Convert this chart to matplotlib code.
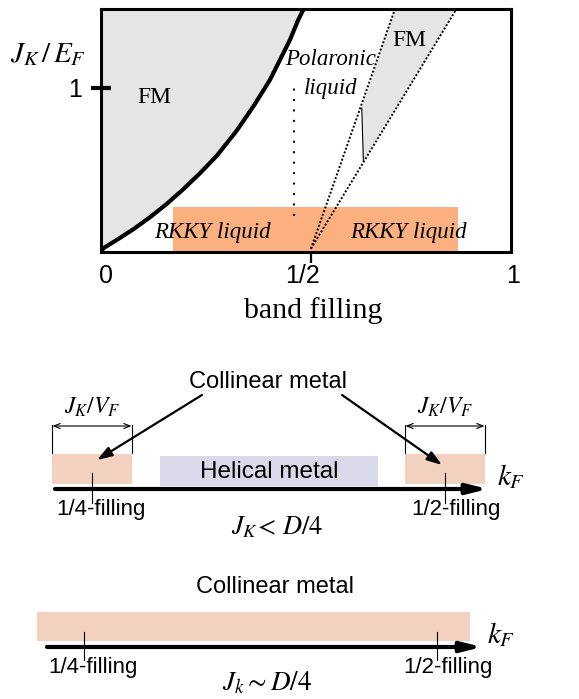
import matplotlib
matplotlib.use("Agg")
import matplotlib.pyplot as plt
from matplotlib.patches import Rectangle
from matplotlib.transforms import ScaledTranslation
import numpy as np

plt.rcParams['mathtext.fontset'] = 'stix'

W, H = 579, 699
SERIF = 'Liberation Serif'
SANS = 'Liberation Sans'

# ---------------- data: top phase diagram ----------------
fm_curve_x = [0.0, 0.0056, 0.0383, 0.0788, 0.1195, 0.1602, 0.2007, 0.2415, 0.2822,
              0.331, 0.3715, 0.4122, 0.4366, 0.4610, 0.4812, 0.4934, 0.4945]
fm_curve_y = [0.0, 0.0226, 0.0732, 0.1384, 0.2116, 0.2927, 0.3823, 0.4799, 0.5854,
              0.739, 0.886, 1.0488, 1.1707, 1.2927, 1.4146, 1.4756, 1.48]
rkky_x = [0.176, 0.871]
rkky_y = [0.0, 0.274]
polaron_dots_x = [0.471, 0.471]
polaron_dots_y = [0.226, 1.05]
wedge_vertex = (0.512, 0.02)
wedge_top_x = [0.717, 0.867]
fm2_x = [0.717, 0.867, 0.640, 0.636]
fm2_y = [1.48, 1.48, 0.551, 0.876]
ymax = 1.48
xticks_pos = [0.0, 0.512, 1.0]
xtick_labels = ['0', '1/2', '1']
yticks_pos = [1.0]
ytick_labels = ['1']

# ---------------- data: k_F panels ----------------
fillings = [0.25, 0.5]
filling_labels = ['1/4-filling', '1/2-filling']
window_width = 0.056          # J_K / V_F
helical_k = [0.2982, 0.4525]
axis2_k = [0.2238, 0.5304]
collinear_arrow_from = [0.3279, 0.4271]
collinear_arrow_to = [0.2535, 0.4979]
band3_k = [0.2167, 0.5234]
axis3_k = [0.2238, 0.5319]

GRAY = '#e5e5e5'
ORANGE = '#fcb07f'
PINK = '#f2d1c0'
LAV = '#d9d9ea'

fig = plt.figure(figsize=(W / 100, H / 100), dpi=100)

def fx(px):
    return px / W

def fy(py):
    return 1 - py / H

# ---------------- top panel ----------------
ax = fig.add_axes([fx(101), fy(252), (511 - 101) / W, (252 - 9) / H])
ax.set_xlim(0, 1)
ax.set_ylim(0, ymax)
for s in ax.spines.values():
    s.set_linewidth(2.2)
    s.set_zorder(10)

ax.fill([0] + fm_curve_x + [0], [0] + fm_curve_y + [ymax], color=GRAY, lw=0, zorder=1)
ax.add_patch(Rectangle((rkky_x[0], rkky_y[0]), rkky_x[1] - rkky_x[0], rkky_y[1] - rkky_y[0],
                       color=ORANGE, lw=0, zorder=2))
ax.fill(fm2_x, fm2_y, color=GRAY, lw=0, zorder=1)
ax.plot(fm_curve_x, fm_curve_y, color='k', lw=3.0, zorder=5, solid_capstyle='butt',
        solid_joinstyle='round')
ax.plot(polaron_dots_x, polaron_dots_y, color='k', lw=1.6, linestyle=(0, (0.1, 4.6)),
        dash_capstyle='round', zorder=6)
for xt in wedge_top_x:
    ax.plot([wedge_vertex[0], xt], [wedge_vertex[1], ymax], color='k', lw=1.4,
            linestyle=(0, (1, 1.0)), zorder=6)
ax.plot(fm2_x[2:], fm2_y[2:], color='k', lw=0.8, zorder=6)

ax.set_xticks(xticks_pos)
ax.set_xticklabels(xtick_labels, fontfamily=SANS, fontsize=18)
ax.set_yticks(yticks_pos)
ax.set_yticklabels(ytick_labels, fontfamily=SANS, fontsize=18)
ax.tick_params(axis='x', direction='inout', length=16, width=1.6, pad=1)
ax.tick_params(axis='y', direction='inout', length=15, width=3.0, pad=6)
xt_objs = ax.xaxis.get_major_ticks()
for i in (0, 2):
    xt_objs[i].tick1line.set_visible(False)
x_shifts = [5, -8, 2]
for lab, dx in zip(ax.get_xticklabels(), x_shifts):
    lab.set_transform(lab.get_transform() + ScaledTranslation(dx / 100, 0, fig.dpi_scale_trans))

ax.text(0.13, 0.94, 'FM', fontfamily=SERIF, fontsize=17, ha='center', va='center', zorder=8)
ax.text(0.752, 1.29, 'FM', fontfamily=SERIF, fontsize=17, ha='center', va='center', zorder=8)
ax.text(0.561, 1.17, 'Polaronic', fontfamily=SERIF, fontsize=16.5, style='italic',
        ha='center', va='center', zorder=8)
ax.text(0.559, 0.995, 'liquid', fontfamily=SERIF, fontsize=16.5, style='italic',
        ha='center', va='center', zorder=8)
ax.text(0.273, 0.12, 'RKKY liquid', fontfamily=SERIF, fontsize=16.5, style='italic',
        ha='center', va='center', zorder=8)
ax.text(0.75, 0.12, 'RKKY liquid', fontfamily=SERIF, fontsize=16.5, style='italic',
        ha='center', va='center', zorder=8)

fig.text(fx(48), fy(54), r'$J_K\,/\,E_F$', fontsize=21, ha='center', va='center')
fig.text(fx(313), fy(311), 'band filling', fontfamily=SERIF, fontsize=21.5,
         ha='center', va='center')

# ---------------- middle panel: J_K < D/4 ----------------
def k_lim(px_quarter):
    scale = 1412.0
    return (0.25 - px_quarter / scale, 0.25 + (W - px_quarter) / scale)

ax2 = fig.add_axes([0, fy(540), 1, 200 / H])
ax2.set_xlim(*k_lim(92))
ax2.set_ylim(0, 200)
ax2.axis('off')

for f in fillings:
    ax2.add_patch(Rectangle((f - window_width / 2, 56), window_width, 30, color=PINK, lw=0))
    ax2.plot([f, f], [37, 67], color='k', lw=0.8)
    for e in (f - window_width / 2, f + window_width / 2):
        ax2.plot([e, e], [87, 115], color='k', lw=0.8)
    ax2.annotate('', xy=(f + window_width / 2, 114), xytext=(f - window_width / 2, 114),
                 arrowprops=dict(arrowstyle='<->,head_length=0.45,head_width=0.18', lw=0.8,
                                 color='k', shrinkA=0, shrinkB=0))
    ax2.text(f, 133, r'$J_K/V_F$', fontsize=17, ha='center', va='center')

ax2.add_patch(Rectangle((helical_k[0], 54), helical_k[1] - helical_k[0], 30, color=LAV, lw=0))
ax2.text(np.mean(helical_k), 68, 'Helical metal', fontfamily=SANS, fontsize=17.5,
         ha='center', va='center')
ax2.annotate('', xy=(axis2_k[1], 51), xytext=(axis2_k[0], 51),
             arrowprops=dict(arrowstyle='-|>,head_length=1.2,head_width=0.3', lw=3, color='k',
                             shrinkA=0, shrinkB=0))
ax2.text(0.5368, 63, r'$k_F$', fontsize=21, ha='left', va='center')
ax2.text(fillings[0] + 0.0062, 30, filling_labels[0], fontfamily=SANS, fontsize=16,
         ha='center', va='center')
ax2.text(fillings[1] + 0.0075, 30, filling_labels[1], fontfamily=SANS, fontsize=16,
         ha='center', va='center')
ax2.text(0.3746, 158, 'Collinear metal', fontfamily=SANS, fontsize=17, ha='center',
         va='center')
for a, b, yb in zip(collinear_arrow_from, collinear_arrow_to, (80, 75)):
    ax2.annotate('', xy=(b, yb), xytext=(a, 145),
                 arrowprops=dict(arrowstyle='-|>,head_length=0.9,head_width=0.3', lw=1.6,
                                 color='k', shrinkA=0, shrinkB=0))
ax2.text(0.381, 13, r'$J_K\!<\,D/4$', fontsize=19, ha='center', va='center')

# ---------------- bottom panel: J_k ~ D/4 ----------------
ax3 = fig.add_axes([0, 0, 1, 159 / H])
ax3.set_xlim(*k_lim(84))
ax3.set_ylim(0, 159)
ax3.axis('off')
ax3.add_patch(Rectangle((band3_k[0], 58), band3_k[1] - band3_k[0], 29, color=PINK, lw=0))
for f in fillings:
    ax3.plot([f, f], [39, 67], color='k', lw=0.8)
ax3.annotate('', xy=(axis3_k[1], 52), xytext=(axis3_k[0], 52),
             arrowprops=dict(arrowstyle='-|>,head_length=1.2,head_width=0.3', lw=3, color='k',
                             shrinkA=0, shrinkB=0))
ax3.text(0.5354, 64, r'$k_F$', fontsize=21, ha='left', va='center')
ax3.text(fillings[0] + 0.0064, 31, filling_labels[0], fontfamily=SANS, fontsize=16,
         ha='center', va='center')
ax3.text(fillings[1] + 0.0078, 31, filling_labels[1], fontfamily=SANS, fontsize=16,
         ha='center', va='center')
ax3.text(0.3853, 112, 'Collinear metal', fontfamily=SANS, fontsize=17,
         ha='center', va='center')
ax3.text(0.3796, 16, r'$J_k\sim D/4$', fontsize=19.5, ha='center', va='center')

fig.savefig('out.png', dpi=100)
